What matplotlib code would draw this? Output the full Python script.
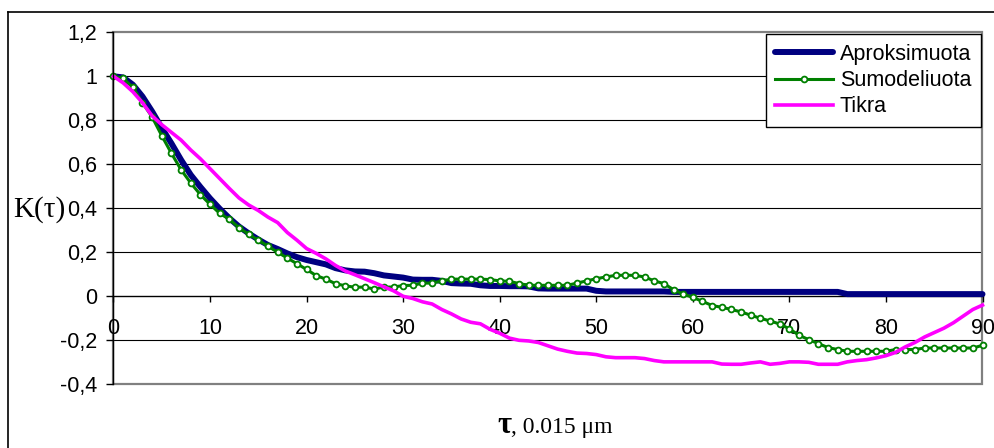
import matplotlib
matplotlib.use('Agg')
import matplotlib.pyplot as plt
from matplotlib.lines import Line2D
from matplotlib.patches import Rectangle

# tau, 0..90 step 1
tau = list(range(0, 91))

aproksimuota = [1.0, 0.995, 0.962, 0.908, 0.84, 0.765, 0.695, 0.62, 0.552, 0.497,
                0.445, 0.398, 0.355, 0.317, 0.286, 0.258, 0.233, 0.215, 0.195, 0.178,
                0.165, 0.155, 0.145, 0.128, 0.118, 0.113, 0.112, 0.105, 0.095, 0.09,
                0.085, 0.076, 0.075, 0.075, 0.07, 0.06, 0.058, 0.057, 0.05, 0.047,
                0.047, 0.046, 0.046, 0.045, 0.036, 0.035, 0.035, 0.035, 0.035, 0.035,
                0.025, 0.022, 0.022, 0.022, 0.022, 0.022, 0.022, 0.022, 0.02, 0.02,
                0.02, 0.02, 0.02, 0.02, 0.02, 0.02, 0.02, 0.02, 0.02, 0.02,
                0.02, 0.02, 0.02, 0.02, 0.02, 0.02, 0.01, 0.01, 0.01, 0.01,
                0.01, 0.01, 0.01, 0.01, 0.01, 0.01, 0.01, 0.01, 0.01, 0.01,
                0.01]

sumodeliuota = [1.0, 0.99, 0.95, 0.88, 0.815, 0.73, 0.65, 0.575, 0.515, 0.462,
                0.418, 0.377, 0.35, 0.312, 0.282, 0.255, 0.228, 0.2, 0.174, 0.148,
                0.122, 0.094, 0.078, 0.057, 0.048, 0.041, 0.042, 0.033, 0.042, 0.042,
                0.049, 0.05, 0.06, 0.06, 0.07, 0.078, 0.078, 0.078, 0.078, 0.076,
                0.07, 0.068, 0.058, 0.05, 0.05, 0.05, 0.05, 0.05, 0.06, 0.07,
                0.08, 0.088, 0.095, 0.096, 0.095, 0.088, 0.07, 0.058, 0.03, 0.01,
                -0.005, -0.023, -0.042, -0.05, -0.06, -0.071, -0.086, -0.1, -0.112, -0.126,
                -0.148, -0.177, -0.197, -0.215, -0.233, -0.242, -0.25, -0.25, -0.25, -0.25,
                -0.25, -0.242, -0.242, -0.242, -0.235, -0.235, -0.235, -0.235, -0.235, -0.235,
                -0.223]

tikra = [1.0, 0.97, 0.93, 0.88, 0.82, 0.78, 0.745, 0.71, 0.665, 0.625,
         0.58, 0.535, 0.49, 0.447, 0.415, 0.39, 0.36, 0.335, 0.29, 0.255,
         0.217, 0.195, 0.17, 0.14, 0.115, 0.098, 0.08, 0.062, 0.043, 0.025,
         0.0, -0.01, -0.025, -0.035, -0.06, -0.08, -0.103, -0.118, -0.125, -0.15,
         -0.168, -0.19, -0.2, -0.203, -0.21, -0.225, -0.24, -0.25, -0.258, -0.26,
         -0.265, -0.275, -0.279, -0.279, -0.279, -0.283, -0.292, -0.298, -0.298, -0.298,
         -0.298, -0.298, -0.298, -0.308, -0.309, -0.309, -0.303, -0.298, -0.309, -0.305,
         -0.298, -0.298, -0.3, -0.309, -0.309, -0.309, -0.298, -0.292, -0.288, -0.28,
         -0.27, -0.255, -0.23, -0.21, -0.185, -0.165, -0.145, -0.12, -0.09, -0.06,
         -0.04]

y_ticks = [-0.4, -0.2, 0, 0.2, 0.4, 0.6, 0.8, 1.0, 1.2]
y_tick_labels = ['-0,4', '-0,2', '0', '0,2', '0,4', '0,6', '0,8', '1', '1,2']
x_ticks = [0, 10, 20, 30, 40, 50, 60, 70, 80, 90]

W, H = 995, 448
SANS = 'Liberation Sans'
SERIF = 'Liberation Serif'


def main():
    plt.rcParams['font.family'] = SANS
    fig = plt.figure(figsize=(W / 100, H / 100), dpi=100)
    ax = fig.add_axes([113.5 / W, 1 - 384.3 / H, 869 / W, 352 / H])

    ax.set_xlim(0, 90)
    ax.set_ylim(-0.4, 1.2)

    # grid + plot area border
    for y in y_ticks[1:-1]:
        if y != 0:
            ax.axhline(y, color='black', lw=0.8, zorder=1)
    ax.add_patch(Rectangle((0, 0), 1, 1, transform=ax.transAxes, fill=False,
                           edgecolor='#808080', lw=1.6, zorder=1, clip_on=False))

    ax.plot(tau, aproksimuota, color='#000080', lw=4.3, solid_capstyle='round',
            label='Aproksimuota', zorder=3, clip_on=False)
    ax.plot(tau, sumodeliuota, color='#008000', lw=2.2, marker='o', markersize=4.2,
            markerfacecolor='white', markeredgecolor='#008000', markeredgewidth=1.3,
            label='Sumodeliuota', zorder=4, clip_on=False)
    ax.plot(tau, tikra, color='#FF00FF', lw=2.6, label='Tikra', zorder=5, clip_on=False)

    for s in ['top', 'right']:
        ax.spines[s].set_visible(False)
    ax.spines['left'].set_color('black')
    ax.spines['left'].set_linewidth(1.0)
    ax.spines['left'].set_zorder(6)
    ax.spines['bottom'].set_position(('data', 0))
    ax.spines['bottom'].set_color('black')
    ax.spines['bottom'].set_linewidth(1.0)
    ax.spines['bottom'].set_zorder(2)

    ax.set_yticks(y_ticks)
    ax.set_yticklabels(y_tick_labels)
    ax.set_xticks(x_ticks)
    ax.set_xticklabels([str(v) for v in x_ticks])
    ax.tick_params(axis='y', direction='out', length=5, width=1, pad=7, labelsize=15.5)
    ax.tick_params(axis='x', direction='out', length=4.3, width=1, pad=11.5, labelsize=15.5)

    leg = ax.legend(loc='upper right', bbox_to_anchor=(981 / W, 1 - 34 / H),
                    bbox_transform=fig.transFigure, borderaxespad=0, fancybox=False,
                    framealpha=1, edgecolor='black', fontsize=15.5, numpoints=1,
                    handlelength=2.7, handletextpad=0.3, labelspacing=0.25,
                    borderpad=0.45)
    leg.get_frame().set_linewidth(1.0)
    leg.set_zorder(10)

    # outer chart frame
    fig.add_artist(Line2D([8 / W, 1], [1 - 12 / H, 1 - 12 / H], color='black', lw=1.2))
    fig.add_artist(Line2D([8 / W, 8 / W], [1 - 12 / H, 0], color='black', lw=1.2))

    fig.text(13 / W, 1 - 210 / H, 'K(τ)', family=SERIF, fontsize=21,
             ha='left', va='center')
    fig.text(497 / W, 1 - 433 / H, 'τ', family=SERIF, fontsize=22, weight='bold',
             ha='left', va='baseline')
    fig.text(511 / W, 1 - 433 / H, ', 0.015 μm', family=SERIF, fontsize=17,
             ha='left', va='baseline')

    fig.savefig('out.png', dpi=100)


if __name__ == '__main__':
    main()
